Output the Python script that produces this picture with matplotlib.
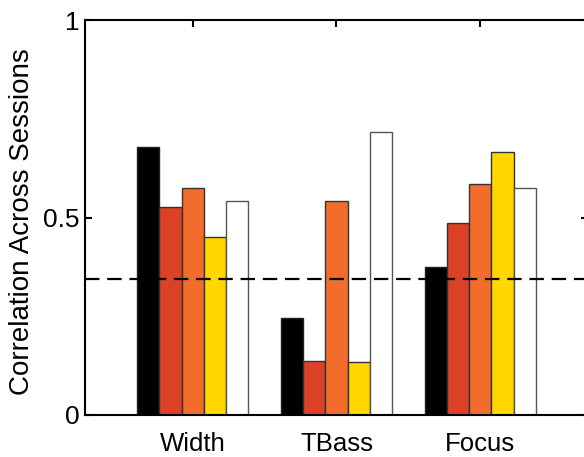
import numpy as np
import matplotlib
matplotlib.use('Agg')
import matplotlib.pyplot as plt

# measures and correlation values
measures = ['Width', 'TBass', 'Focus']
series_black = [0.678, 0.245, 0.375]
series_red = [0.527, 0.137, 0.487]
series_orange = [0.575, 0.543, 0.586]
series_yellow = [0.451, 0.133, 0.665]
series_white = [0.543, 0.716, 0.574]
chance_level = 0.344

colors = ['#000000', '#DA4127', '#F26C2B', '#FFD700', '#FFFFFF']
edges = ['#222222', '#333333', '#333333', '#333333', '#555555']


def main():
    plt.rcParams['font.family'] = ['Liberation Sans', 'DejaVu Sans']
    fig = plt.figure(figsize=(5.84, 4.57), dpi=100)
    ax = fig.add_axes([85 / 584, 42 / 457, 503 / 584, 395 / 457])

    all_series = [series_black, series_red, series_orange, series_yellow, series_white]
    xs = np.arange(1, len(measures) + 1)
    w = 0.155
    for i, vals in enumerate(all_series):
        offs = (i - 2) * w
        ax.bar(xs + offs, vals, width=w, color=colors[i], edgecolor=edges[i],
               linewidth=1.0, zorder=2)

    ax.axhline(chance_level, color='black', linestyle=(0, (6.5, 3.5)), linewidth=1.6, zorder=3)

    ax.set_xlim(0.25, 3.75)
    ax.set_ylim(0, 1)
    ax.set_xticks(xs)
    ax.set_xticklabels(measures)
    ax.set_yticks([0, 0.5, 1])
    ax.set_yticklabels(['0', '0.5', '1'])
    ax.tick_params(direction='in', length=5, width=1.5,
                   top=True, right=True)
    ax.tick_params(axis='x', pad=12, labelsize=18.5)
    ax.tick_params(axis='y', pad=4, labelsize=19)
    for sp in ax.spines.values():
        sp.set_linewidth(1.5)
    ax.set_ylabel('Correlation Across Sessions', fontsize=20)
    ax.yaxis.set_label_coords(-0.10, 0.49)

    fig.savefig('out.png', dpi=100)


if __name__ == '__main__':
    main()
